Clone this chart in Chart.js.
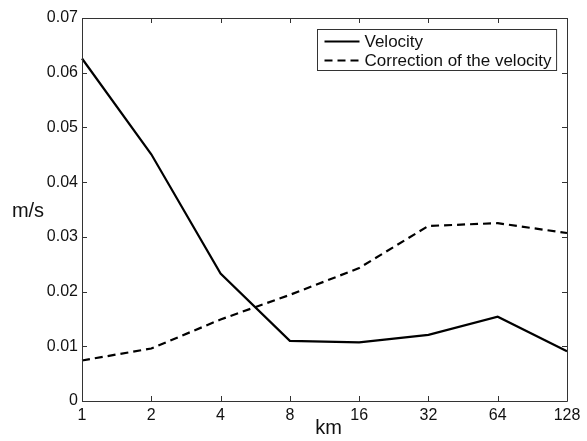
<!DOCTYPE html>
<html>
<head>
<meta charset="utf-8">
<script src="https://cdn.jsdelivr.net/npm/chart.js@4/dist/chart.umd.min.js"></script>
<style>
html,body{margin:0;padding:0;background:#fff;}
#wrap{width:587px;height:441px;position:relative;}
</style>
</head>
<body>
<div id="wrap"><canvas id="c" width="587" height="441"></canvas></div>
<script>
const categories = ['1','2','4','8','16','32','64','128'];
const velocity = [0.0626, 0.0451, 0.0233, 0.0110, 0.0107, 0.0121, 0.0154, 0.0091];
const correction = [0.0074, 0.0096, 0.0149, 0.0194, 0.0243, 0.0320, 0.0325, 0.0307];
const seriesNames = ['Velocity', 'Correction of the velocity'];
const yTicks = [0, 0.01, 0.02, 0.03, 0.04, 0.05, 0.06, 0.07];
const xTitle = 'km';
const yTitle = 'm/s';

const FONT = '"Liberation Sans", Arial, Helvetica, sans-serif';

const framePlugin = {
  id: 'frame',
  afterDraw(chart) {
    const ctx = chart.ctx;
    const a = chart.chartArea;
    const xs = chart.scales.x, ys = chart.scales.y;
    ctx.save();
    ctx.strokeStyle = '#333';
    ctx.lineWidth = 1;
    ctx.beginPath();
    ctx.rect(Math.round(a.left) + 0.5, Math.round(a.top) + 0.5, Math.round(a.right - a.left), Math.round(a.bottom - a.top));
    ctx.stroke();
    const tl = 5;
    ctx.beginPath();
    xs.ticks.forEach((t, i) => {
      const px = Math.round(xs.getPixelForTick(i)) + 0.5;
      ctx.moveTo(px, a.bottom); ctx.lineTo(px, a.bottom - tl);
      ctx.moveTo(px, a.top); ctx.lineTo(px, a.top + tl);
    });
    ys.ticks.forEach((t, i) => {
      const py = Math.round(ys.getPixelForTick(i)) + 0.5;
      ctx.moveTo(a.left, py); ctx.lineTo(a.left + tl, py);
      ctx.moveTo(a.right, py); ctx.lineTo(a.right - tl, py);
    });
    ctx.stroke();

    // axis titles
    ctx.fillStyle = '#111';
    ctx.font = '20px ' + FONT;
    ctx.textAlign = 'center';
    ctx.textBaseline = 'middle';
    ctx.fillText(yTitle, 28, 211);
    ctx.fillText(xTitle, (a.left + a.right) / 2 + 4, 428);

    // legend
    ctx.font = '17px ' + FONT;
    const texts = chart.data.datasets.map(d => d.label);
    const tw = Math.max(...texts.map(t => ctx.measureText(t).width));
    const lineLen = 35;
    const boxW = 7 + lineLen + 5 + tw + 5;
    const boxH = 41;
    const bx = Math.round(a.right - 11 - boxW) + 0.5;
    const by = Math.round(a.top + 11) + 0.5;
    ctx.fillStyle = '#fff';
    ctx.fillRect(bx, by, boxW, boxH);
    ctx.strokeStyle = '#333';
    ctx.lineWidth = 1;
    ctx.strokeRect(bx, by, boxW, boxH);
    chart.data.datasets.forEach((d, i) => {
      const cy = by + 12 + i * 19;
      ctx.save();
      ctx.strokeStyle = d.borderColor;
      ctx.lineWidth = d.borderWidth;
      ctx.setLineDash(d.borderDash || []);
      ctx.beginPath();
      ctx.moveTo(bx + 7, cy); ctx.lineTo(bx + 7 + lineLen, cy);
      ctx.stroke();
      ctx.restore();
      ctx.fillStyle = '#111';
      ctx.textAlign = 'left';
      ctx.textBaseline = 'middle';
      ctx.fillText(d.label, bx + 7 + lineLen + 5, cy + 1);
    });
    ctx.restore();
  }
};

new Chart(document.getElementById('c'), {
  type: 'line',
  data: {
    labels: categories,
    datasets: [
      { label: seriesNames[0], data: velocity, borderColor: '#000', borderWidth: 2.2, pointRadius: 0, tension: 0, fill: false },
      { label: seriesNames[1], data: correction, borderColor: '#000', borderWidth: 2.2, borderDash: [8, 5], pointRadius: 0, tension: 0, fill: false }
    ]
  },
  options: {
    responsive: false,
    animation: false,
    events: [],
    layout: { padding: { left: 0, top: 18, right: 20, bottom: 0 } },
    plugins: { legend: { display: false }, tooltip: { enabled: false } },
    scales: {
      x: {
        type: 'category',
        offset: false,
        grid: { display: false, drawTicks: false },
        border: { display: false },
        ticks: { color: '#111', font: { family: FONT, size: 16 }, padding: 5, maxRotation: 0, autoSkip: false },
        afterFit(s) { s.height = 40; }
      },
      y: {
        min: 0, max: 0.07,
        grid: { display: false, drawTicks: false },
        border: { display: false },
        afterBuildTicks(s) { s.ticks = yTicks.map(v => ({ value: v })); },
        ticks: {
          color: '#111', font: { family: FONT, size: 16 }, padding: 4,
          callback: v => (v === 0 ? '0' : v.toFixed(2))
        },
        afterFit(s) { s.width = 82; }
      }
    }
  },
  plugins: [framePlugin]
});
</script>
</body>
</html>
